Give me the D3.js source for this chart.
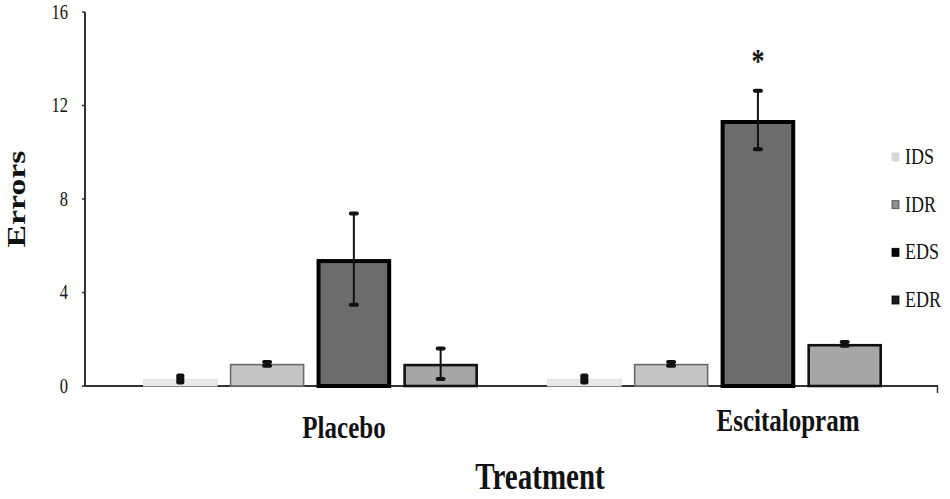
<!DOCTYPE html>
<html>
<head>
<meta charset="utf-8">
<script src="https://cdn.jsdelivr.net/npm/d3@7/dist/d3.min.js"></script>
<style>
  html, body { margin: 0; padding: 0; background: #fff; }
  svg { display: block; }
  text { font-family: "Liberation Serif", "DejaVu Serif", serif; fill: #111; }
</style>
</head>
<body>
<svg id="chart" width="950" height="499"></svg>
<script>
// ---- data ----
const groups = ["Placebo", "Escitalopram"];
const series = ["IDS", "IDR", "EDS", "EDR"];
const placeboMeans = [0.3, 0.95, 5.43, 0.95];
const placeboErrors = [0.15, 0.08, 1.95, 0.65];
const escitalopramMeans = [0.3, 0.95, 11.38, 1.8];
const escitalopramErrors = [0.15, 0.08, 1.25, 0.08];
const escitalopramMarks = ["", "", "*", ""];
const placeboMarks = ["", "", "", ""];
const yTicks = [0, 4, 8, 12, 16];
const yTitle = "Errors";
const xTitle = "Treatment";

const means = { "Placebo": placeboMeans, "Escitalopram": escitalopramMeans };
const errors = { "Placebo": placeboErrors, "Escitalopram": escitalopramErrors };
const marks = { "Placebo": placeboMarks, "Escitalopram": escitalopramMarks };

const rows = [];
groups.forEach(g => series.forEach((s, i) => rows.push({
  group: g, series: s, value: means[g][i], err: errors[g][i], mark: marks[g][i]
})));

// ---- styles ----
const fills = { IDS: "#e8e8e8", IDR: "#c5c5c5", EDS: "#6c6c6c", EDR: "#a6a6a6" };
const strokes = { IDS: "#e0e0e0", IDR: "#6a6a6a", EDS: "#000", EDR: "#111" };
const strokeW = { IDS: 1, IDR: 1.6, EDS: 4, EDR: 2.6 };
const errLineW = { IDS: 8, IDR: 2, EDS: 2, EDR: 2 };
const capW = { IDS: 8, IDR: 10, EDS: 10, EDR: 10 };
const legendFill = { IDS: "#d6d6d6", IDR: "#8f8f8f", EDS: "#050505", EDR: "#1c1c1c" };
const legendStroke = { IDS: "#d6d6d6", IDR: "#444", EDS: "#000", EDR: "#000" };
const SY = 1.3; // vertical stretch of text

const svg = d3.select("#chart");

const y = d3.scaleLinear().domain([0, 16]).range([386, 12]);
const x0 = d3.scaleBand().domain(groups).range([143, 882]).paddingInner(0.171).paddingOuter(0);
const x1 = d3.scaleBand().domain(series).range([0, x0.bandwidth()]).paddingInner(0.14);
const labelX = d3.scalePoint().domain(groups).range([344, 788]);
const labelY = { "Placebo": 438, "Escitalopram": 431 };
const legendY = d3.scalePoint().domain(series).range([157, 300]);

function stretchedText(sel, x, yy, txt, size, weight, anchor, rot) {
  return sel.append("text")
    .attr("transform", `translate(${x},${yy}) ${rot ? "rotate(" + rot + ")" : ""} scale(${rot ? SY + ",1" : "1," + SY})`)
    .attr("text-anchor", anchor || "start")
    .style("font-size", size + "px")
    .style("font-weight", weight || "normal")
    .text(txt);
}

// ---- y axis ----
const yAxisG = svg.append("g").attr("transform", "translate(85,0)");
yAxisG.append("line").attr("x1", 0).attr("x2", 0).attr("y1", y(16)).attr("y2", y(0))
  .attr("stroke", "#333").attr("stroke-width", 2);
yTicks.forEach(t => {
  yAxisG.append("line").attr("x1", -3).attr("x2", 0).attr("y1", y(t)).attr("y2", y(t))
    .attr("stroke", "#333").attr("stroke-width", 1.5);
  stretchedText(yAxisG, -17, y(t) + 6.8, String(t), 16.5, "normal", "end");
});

// ---- x axis ----
svg.append("line").attr("x1", 84).attr("x2", 938).attr("y1", y(0)).attr("y2", y(0))
  .attr("stroke", "#333").attr("stroke-width", 2);
svg.append("line").attr("x1", 937.5).attr("x2", 937.5).attr("y1", y(0)).attr("y2", y(0) + 7)
  .attr("stroke", "#333").attr("stroke-width", 1.5);

// ---- bars ----
svg.append("g").selectAll("rect.bar").data(rows).join("rect")
  .attr("class", "bar")
  .attr("x", d => x0(d.group) + x1(d.series) + strokeW[d.series] / 2)
  .attr("width", d => x1.bandwidth() - strokeW[d.series])
  .attr("y", d => y(d.value) + strokeW[d.series] / 2)
  .attr("height", d => Math.max(0, y(0) - y(d.value) - strokeW[d.series] / 2))
  .attr("fill", d => fills[d.series])
  .attr("stroke", d => strokes[d.series])
  .attr("stroke-width", d => strokeW[d.series]);

// ---- error bars ----
const errG = svg.append("g");
rows.forEach(d => {
  const cx = x0(d.group) + x1(d.series) + x1.bandwidth() / 2;
  const top = y(d.value + d.err), bot = y(d.value - d.err);
  errG.append("line").attr("x1", cx).attr("x2", cx).attr("y1", top).attr("y2", bot)
    .attr("stroke", "#111").attr("stroke-width", errLineW[d.series]);
  [top, bot].forEach(cy => {
    errG.append("rect").attr("x", cx - capW[d.series] / 2).attr("width", capW[d.series])
      .attr("y", cy - 2).attr("height", 4).attr("rx", 2).attr("fill", "#111");
  });
  if (d.mark) {
    stretchedText(errG, cx, top - 19, d.mark, 26, "bold", "middle");
  }
});

// ---- category labels ----
groups.forEach(g => {
  stretchedText(svg, labelX(g), labelY[g], g, 25, "bold", "middle");
});

// ---- axis titles ----
stretchedText(svg, 540, 489, xTitle, 29, "bold", "middle");
stretchedText(svg, 25, 199, yTitle, 26, "bold", "middle", -90);

// ---- legend ----
const legG = svg.append("g");
series.forEach(s => {
  const cy = legendY(s);
  legG.append("rect").attr("x", 892).attr("y", cy - 4).attr("width", 7).attr("height", 8)
    .attr("fill", legendFill[s]).attr("stroke", legendStroke[s]).attr("stroke-width", 0.8);
  stretchedText(legG, 905, cy + 7, s, 18, "normal", "start");
});
</script>
</body>
</html>
